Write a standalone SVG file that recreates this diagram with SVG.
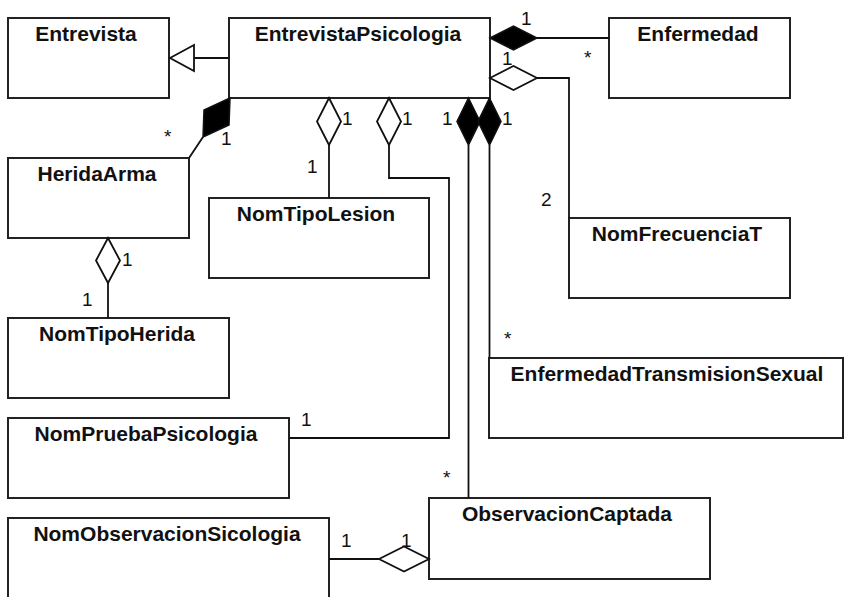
<svg xmlns="http://www.w3.org/2000/svg" width="844" height="597" viewBox="0 0 844 597">
  <style>
    .box { fill: #ffffff; stroke: #222222; stroke-width: 2; }
    .title { font-family: "Liberation Sans", Arial, sans-serif; font-weight: bold; font-size: 21px; fill: #111111; text-anchor: middle; }
    .mult { font-family: "Liberation Sans", Arial, sans-serif; font-size: 19px; fill: #111111; }
    .line { fill: none; stroke: #111111; stroke-width: 1.8; }
    .hollow { fill: #ffffff; stroke: #111111; stroke-width: 1.8; }
    .solid { fill: #000000; stroke: #111111; stroke-width: 1.5; }
  </style>
  <rect width="844" height="597" fill="#ffffff"/>

  <!-- class boxes -->
  <g id="Entrevista">
    <rect class="box" x="8" y="18" width="161" height="80"/>
    <text class="title" x="86" y="41">Entrevista</text>
  </g>
  <g id="EntrevistaPsicologia">
    <rect class="box" x="229" y="18" width="261" height="80"/>
    <text class="title" x="358" y="41">EntrevistaPsicologia</text>
  </g>
  <g id="Enfermedad">
    <rect class="box" x="609" y="18" width="181" height="80"/>
    <text class="title" x="698" y="41">Enfermedad</text>
  </g>
  <g id="HeridaArma">
    <rect class="box" x="8" y="158" width="181" height="80"/>
    <text class="title" x="97" y="181">HeridaArma</text>
  </g>
  <g id="NomTipoLesion">
    <rect class="box" x="209" y="198" width="220" height="80"/>
    <text class="title" x="316" y="221">NomTipoLesion</text>
  </g>
  <g id="NomFrecuenciaT">
    <rect class="box" x="569" y="218" width="221" height="80"/>
    <text class="title" x="677" y="241">NomFrecuenciaT</text>
  </g>
  <g id="NomTipoHerida">
    <rect class="box" x="8" y="318" width="221" height="80"/>
    <text class="title" x="117" y="341">NomTipoHerida</text>
  </g>
  <g id="EnfermedadTransmisionSexual">
    <rect class="box" x="489" y="358" width="354" height="80"/>
    <text class="title" x="667" y="381">EnfermedadTransmisionSexual</text>
  </g>
  <g id="NomPruebaPsicologia">
    <rect class="box" x="8" y="418" width="281" height="80"/>
    <text class="title" x="146" y="441">NomPruebaPsicologia</text>
  </g>
  <g id="ObservacionCaptada">
    <rect class="box" x="429" y="498" width="281" height="81"/>
    <text class="title" x="567" y="521">ObservacionCaptada</text>
  </g>
  <g id="NomObservacionSicologia">
    <rect class="box" x="8" y="518" width="321" height="100"/>
    <text class="title" x="167" y="541">NomObservacionSicologia</text>
  </g>

  <!-- connectors -->
  <g id="connectors">
    <!-- generalization EntrevistaPsicologia -> Entrevista -->
    <line class="line" x1="229" y1="58" x2="194" y2="58"/>
    <polygon class="hollow" points="170,58 194,45 194,71"/>

    <!-- composition EntrevistaPsicologia - Enfermedad -->
    <line class="line" x1="537" y1="38" x2="609" y2="38"/>
    <polygon class="solid" points="490,38 513.5,26 537,38 513.5,50"/>

    <!-- aggregation EntrevistaPsicologia - NomFrecuenciaT -->
    <polyline class="line" points="537,78 569,78 569,218"/>
    <polygon class="hollow" points="490,78 513.5,66 537,78 513.5,90"/>

    <!-- composition EntrevistaPsicologia - HeridaArma -->
    <line class="line" x1="203" y1="137" x2="189" y2="158"/>
    <polygon class="solid" points="230,98 204,110 203,137 229,125"/>

    <!-- aggregation EntrevistaPsicologia - NomTipoLesion -->
    <line class="line" x1="329" y1="145" x2="329" y2="198"/>
    <polygon class="hollow" points="329,98 341,121.5 329,145 317,121.5"/>

    <!-- aggregation EntrevistaPsicologia - NomPruebaPsicologia -->
    <polyline class="line" points="389,145 389,178 449,178 449,438 289,438"/>
    <polygon class="hollow" points="389,98 401,121.5 389,145 377,121.5"/>

    <!-- composition EntrevistaPsicologia - ObservacionCaptada -->
    <line class="line" x1="468.5" y1="145" x2="468.5" y2="498"/>
    <polygon class="solid" points="468.5,98 480,121.5 468.5,145 457,121.5"/>

    <!-- composition EntrevistaPsicologia - EnfermedadTransmisionSexual -->
    <line class="line" x1="489.5" y1="145" x2="489.5" y2="358"/>
    <polygon class="solid" points="489.5,98 501,121.5 489.5,145 478,121.5"/>

    <!-- aggregation HeridaArma - NomTipoHerida -->
    <line class="line" x1="108" y1="283" x2="108" y2="318"/>
    <polygon class="hollow" points="108,238 120,260.5 108,283 96,260.5"/>

    <!-- aggregation ObservacionCaptada - NomObservacionSicologia -->
    <line class="line" x1="329" y1="559" x2="379" y2="559"/>
    <polygon class="hollow" points="379,559 404,546.5 429,559 404,571.5"/>
  </g>

  <!-- multiplicities -->
  <g id="multiplicities">
    <text class="mult" x="521" y="25">1</text>
    <text class="mult" x="584" y="64">*</text>
    <text class="mult" x="502" y="65">1</text>
    <text class="mult" x="541" y="206">2</text>
    <text class="mult" x="221" y="145">1</text>
    <text class="mult" x="164" y="143">*</text>
    <text class="mult" x="342" y="125">1</text>
    <text class="mult" x="307" y="173">1</text>
    <text class="mult" x="402" y="125">1</text>
    <text class="mult" x="442" y="125">1</text>
    <text class="mult" x="502" y="125">1</text>
    <text class="mult" x="122" y="266">1</text>
    <text class="mult" x="82" y="306">1</text>
    <text class="mult" x="504" y="345">*</text>
    <text class="mult" x="301" y="426">1</text>
    <text class="mult" x="443" y="484">*</text>
    <text class="mult" x="341" y="547">1</text>
    <text class="mult" x="401" y="547">1</text>
  </g>
</svg>
